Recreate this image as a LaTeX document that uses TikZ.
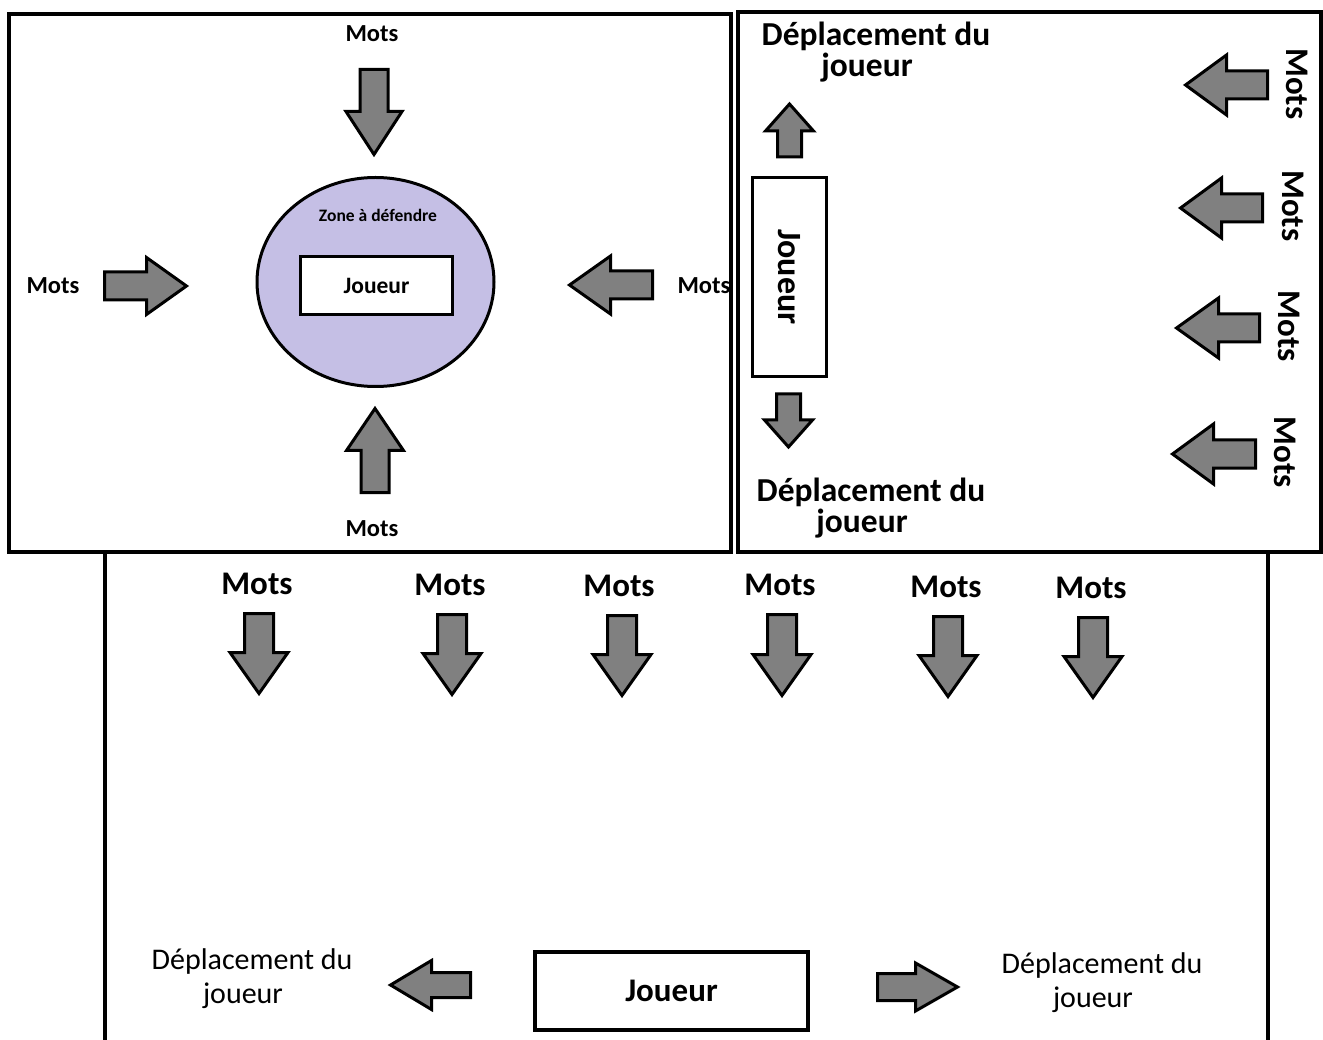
\documentclass[tikz,border=0pt]{standalone}
\usepackage{fontspec}
\setmainfont{Carlito}
\usetikzlibrary{shapes.geometric}
\definecolor{zonefill}{RGB}{197,191,229}
\definecolor{arrowgray}{RGB}{128,128,128}
% #1 position, #2 rotation, #3 total length, #4 head length, #5 shaft half-width, #6 head half-width
\newcommand{\blockarrow}[6]{%
  \draw[blockarr, shift={#1}, rotate=#2] (0,-#5) -- ({#3-#4},-#5) -- ({#3-#4},-#6) -- (#3,0) -- ({#3-#4},#6) -- ({#3-#4},#5) -- (0,#5) -- cycle;}
\tikzset{
  panel/.style={line width=4pt, line cap=rect},
  blockarr/.style={draw=black, fill=arrowgray, line width=3pt, line join=miter},
  txt/.style={inner sep=0pt, outer sep=0pt},
  motsS/.style={txt, font=\bfseries\fontsize{24.5}{28}\selectfont},
  motsL/.style={txt, font=\bfseries\fontsize{33}{38}\selectfont},
  deplB/.style={txt, align=center, font=\bfseries\fontsize{33.5}{30.5}\selectfont},
  deplN/.style={txt, align=center, font=\fontsize{30}{34}\selectfont},
  playerbox/.style={draw=black, fill=white, line width=3.5pt, inner sep=0pt},
}
\begin{document}
\begin{tikzpicture}[x=1pt, y=-1pt]
\clip (0,0) rectangle (1323,1040);
\fill[white] (0,0) rectangle (1323,1040);

% ---------- panels ----------
\draw[panel] (9,14) rectangle (731,552);
\draw[panel] (738,12) rectangle (1320.5,552);
\draw[panel] (105,552) -- (105,1050);
\draw[panel] (1268,552) -- (1268,1050);

% ---------- top-left panel ----------
\node[ellipse, draw=black, fill=zonefill, line width=3pt, minimum width=237, minimum height=209, inner sep=0pt] (zone) at (375.5,282) {};
\node[txt, font=\bfseries\fontsize{17.5}{20}\selectfont] (zonelbl) at (378,215) {Zone à défendre};
\node[playerbox, line width=3pt, minimum width=152, minimum height=58, font=\bfseries\fontsize{23.5}{27}\selectfont] (j1) at (376.5,285.5) {Joueur};

\node[motsS] (m1t) at (372,34) {Mots};
\node[motsS] (m1l) at (53,286) {Mots};
\node[motsS] (m1r) at (704,286) {Mots};
\node[motsS] (m1b) at (372,529) {Mots};

\blockarrow{(374,69.5)}{-90}{85}{43}{14}{28}
\blockarrow{(104.5,286)}{0}{82}{40}{14}{28.5}
\blockarrow{(652.5,285)}{180}{83}{41}{14}{29}
\blockarrow{(375,492.5)}{90}{84}{42}{14}{28.5}

% ---------- top-right panel ----------
\node[deplB] (d2t) at (876,52) {Déplacement du\\joueur\hspace*{18pt}};
\node[deplB] (d2b) at (871,508) {Déplacement du\\joueur\hspace*{18pt}};
\node[playerbox, minimum width=199, minimum height=74, rotate=-90, font=\bfseries\fontsize{34}{38}\selectfont] (j2) at (789.5,277) {Joueur};

\blockarrow{(789.5,157)}{90}{53}{27}{12}{24}
\blockarrow{(788.5,394)}{-90}{53}{27}{12}{24}

\node[motsL, rotate=-90] (m2a) at (1297,84) {Mots};
\node[motsL, rotate=-90] (m2b) at (1293,206) {Mots};
\node[motsL, rotate=-90] (m2c) at (1289,326) {Mots};
\node[motsL, rotate=-90] (m2d) at (1285,452) {Mots};

\blockarrow{(1267.5,85)}{180}{82}{41}{14}{30}
\blockarrow{(1262.5,208)}{180}{82}{41}{14}{30}
\blockarrow{(1259.5,328)}{180}{83}{42}{14}{30}
\blockarrow{(1255.5,454)}{180}{83}{41}{14}{30}

% ---------- bottom panel ----------
\node[motsL] (m3a) at (257,584) {Mots};
\node[motsL] (m3b) at (450,585) {Mots};
\node[motsL] (m3c) at (619,586) {Mots};
\node[motsL] (m3d) at (780,585) {Mots};
\node[motsL] (m3e) at (946,587) {Mots};
\node[motsL] (m3f) at (1091,588) {Mots};

\blockarrow{(259,613.5)}{-90}{80}{41}{14.5}{29}
\blockarrow{(452,614.5)}{-90}{80}{41}{14.5}{29}
\blockarrow{(622,615.5)}{-90}{80}{41}{14.5}{29}
\blockarrow{(782,614.5)}{-90}{81}{41}{14.5}{29}
\blockarrow{(948,616.5)}{-90}{80}{41}{14.5}{29}
\blockarrow{(1093,617.5)}{-90}{80}{41}{14.5}{29}

\node[playerbox, line width=4pt, minimum width=273, minimum height=78, font=\bfseries\fontsize{33}{38}\selectfont] (j3) at (671.5,991) {Joueur};

\blockarrow{(470.5,985)}{180}{80}{41}{12.5}{24.5}
\blockarrow{(877.5,987)}{0}{80}{42}{13.5}{24}

\node[deplN] (d3l) at (252,979) {Déplacement du\\joueur\hspace*{18pt}};
\node[deplN] (d3r) at (1102,983) {Déplacement du\\joueur\hspace*{18pt}};
\end{tikzpicture}
\end{document}
